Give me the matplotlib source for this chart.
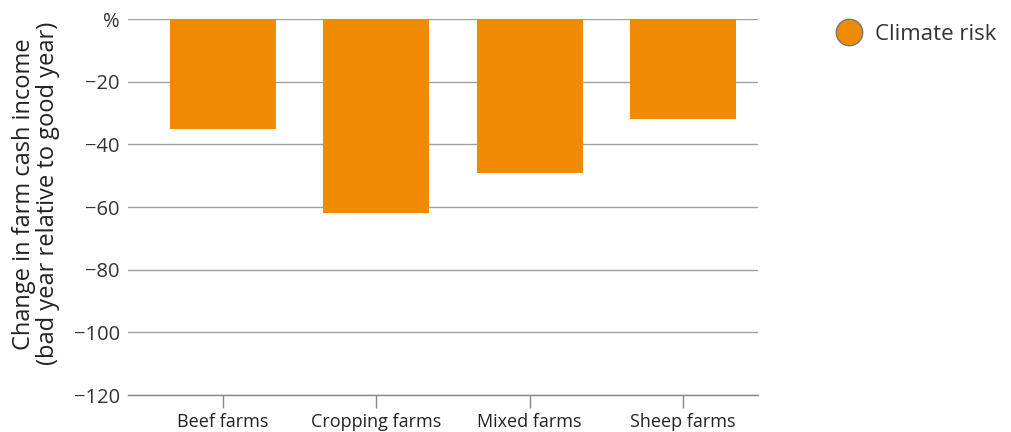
import matplotlib
matplotlib.use("Agg")
import matplotlib.pyplot as plt
from matplotlib.lines import Line2D

categories = ["Beef farms", "Cropping farms", "Mixed farms", "Sheep farms"]
values = [-35, -62, -49, -32]
yticks = [0, -20, -40, -60, -80, -100, -120]
ytick_labels = ["%", "\u221220", "\u221240", "\u221260", "\u221280", "\u2212100", "\u2212120"]
series_name = "Climate risk"
ylabel = "Change in farm cash income\n(bad year relative to good year)"

plt.rcParams['font.family'] = ['Open Sans', 'DejaVu Sans']
orange = "#F08A00"
text_col = "#222222"

fig = plt.figure(figsize=(10.11, 4.32), dpi=100)
ax = fig.add_axes([0.1266, 0.0856, 0.6232, 0.8704])

x = list(range(len(categories)))
ax.bar(x, values, width=0.69, color=orange, zorder=3)

ax.set_xlim(-0.62, 3.49)
ax.set_ylim(-120, 0)
ax.set_yticks(yticks)
ax.set_yticklabels(ytick_labels)
ax.set_xticks(x)
ax.set_xticklabels(categories)

ax.yaxis.grid(True, color="#a0a0a0", linewidth=1.0, zorder=0)
for s in ["left", "right", "top"]:
    ax.spines[s].set_visible(False)
ax.spines["bottom"].set_color("#888888")
ax.spines["bottom"].set_linewidth(1.0)

ax.tick_params(axis="y", length=0, pad=6, labelsize=14.5, labelcolor="#333333")
ax.tick_params(axis="x", length=9, width=1, color="#888888", pad=4, labelsize=13, labelcolor=text_col)

ax.set_ylabel(ylabel, fontsize=17, color=text_col, linespacing=1.0)
ax.yaxis.set_label_coords(-0.108, 0.535)

handle = Line2D([], [], marker="o", linestyle="none", markersize=19,
                markerfacecolor=orange, markeredgecolor="#777777", markeredgewidth=1.0)
fig.legend([handle], [series_name], loc="upper left", bbox_to_anchor=(0.798, 0.991),
           frameon=False, fontsize=16, handletextpad=0.15, labelcolor="#333333")

fig.savefig("out.png", dpi=100)
